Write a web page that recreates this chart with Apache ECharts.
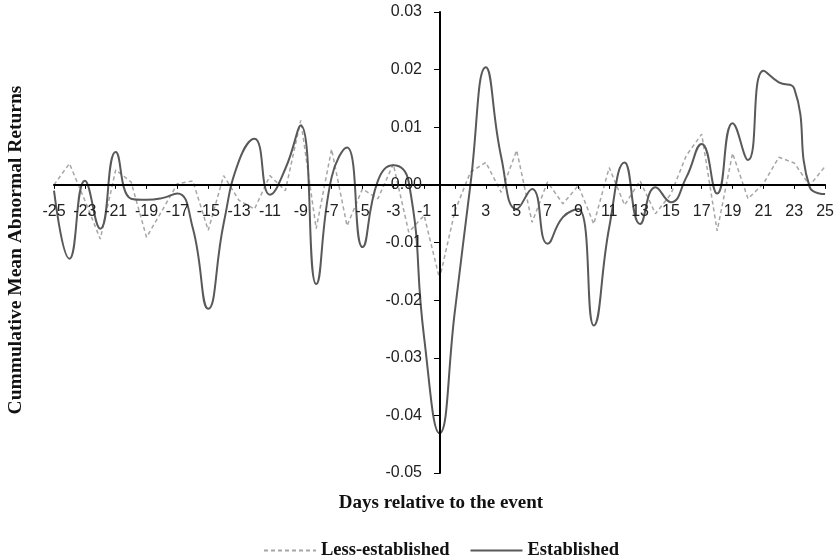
<!DOCTYPE html>
<html>
<head>
<meta charset="utf-8">
<script src="https://cdn.jsdelivr.net/npm/echarts@6/dist/echarts.min.js"></script>
<style>
html,body{margin:0;padding:0;background:#fff;}
#chart{width:837px;height:560px;}
</style>
</head>
<body>
<div id="chart"></div>
<script>
const days = [-25,-24,-23,-22,-21,-20,-19,-18,-17,-16,-15,-14,-13,-12,-11,-10,-9,-8,-7,-6,-5,-4,-3,-2,-1,0,1,2,3,4,5,6,7,8,9,10,11,12,13,14,15,16,17,18,19,20,21,22,23,24,25];

const lessEstablished = [
  0.0000, 0.0037, -0.0027, -0.0094, 0.0026, 0.0005, -0.0091, -0.0045, 0.0002, 0.0007,
  -0.0079, 0.0016, -0.0027, -0.0042, 0.0016, -0.0010, 0.0112, -0.0076, 0.0062, -0.0071,
  -0.0007, -0.0024, 0.0036, -0.0082, -0.0053, -0.0163, -0.0045, 0.0022, 0.0039, -0.0013,
  0.0060, -0.0065, 0.0005, -0.0033, -0.0001, -0.0068, 0.0030, -0.0035, 0.0007, -0.0050,
  -0.0016, 0.0051, 0.0088, -0.0080, 0.0055, -0.0024, 0.0002, 0.0048, 0.0038, -0.0001,
  0.0032
];

const established = [
  -0.0010, -0.0128, 0.0007, -0.0076, 0.0057, -0.0024, -0.0026, -0.0023, -0.0015, -0.0075,
  -0.0215, -0.0067, 0.0042, 0.0080, -0.0017, 0.0028, 0.0103, -0.0172, 0.0013, 0.0065,
  -0.0108, 0.0007, 0.0034, 0.0005, -0.0265, -0.0431, -0.0218, 0.0000, 0.0204, 0.0048,
  -0.0042, -0.0007, -0.0102, -0.0056, -0.0042, -0.0244, -0.0074, 0.0039, -0.0068, -0.0004,
  -0.0030, 0.0013, 0.0071, -0.0015, 0.0107, 0.0043, 0.0198, 0.0178, 0.0167, -0.0004,
  -0.0016
];

const yMin = -0.05, yMax = 0.03, yStep = 0.01;
const seriesNames = ['Less-established', 'Established'];
const xTitle = 'Days relative to the event';
const yTitle = 'Cummulative Mean Abnormal Returns';

const chart = echarts.init(document.getElementById('chart'), null, {renderer: 'canvas'});
const gridLeft = 54, gridRight = 11, gridTop = 12, gridBottom = 87;
const plotW = 837 - gridLeft - gridRight;
const plotH = 560 - gridTop - gridBottom;
const zeroIdx = days.indexOf(0);
const yAxisX = plotW * zeroIdx / (days.length - 1);
const xAxisUp = plotH * (0 - yMin) / (yMax - yMin);

chart.setOption({
  animation: false,
  backgroundColor: '#fff',
  grid: {left: gridLeft, right: gridRight, top: gridTop, bottom: gridBottom, containLabel: false},
  xAxis: {
    type: 'category',
    data: days.map(String),
    boundaryGap: false,
    position: 'bottom',
    offset: -xAxisUp,
    axisLine: {onZero: false, lineStyle: {color: '#000', width: 2}},
    axisTick: {show: true, interval: 1, length: 4, lineStyle: {color: '#000', width: 1}},
    axisLabel: {interval: 1, margin: 19, fontFamily: 'Liberation Sans', fontSize: 16, color: '#222'},
    splitLine: {show: false},
    z: 5
  },
  yAxis: {
    type: 'value',
    min: yMin, max: yMax, interval: yStep,
    position: 'left',
    offset: -yAxisX,
    axisLine: {show: true, onZero: false, lineStyle: {color: '#000', width: 2}},
    axisTick: {show: true, length: 6, lineStyle: {color: '#000', width: 1}},
    axisLabel: {
      margin: 18, fontFamily: 'Liberation Sans', fontSize: 16, color: '#222',
      formatter: v => (Math.round(v * 100) / 100).toFixed(2).replace('-0.00', '0.00')
    },
    splitLine: {show: false},
    z: 5
  },
  legend: {
    top: 536,
    left: 258,
    itemWidth: 52,
    itemHeight: 10,
    itemGap: 20,
    itemStyle: {opacity: 0},
    textStyle: {fontFamily: 'Liberation Serif', fontWeight: 'bold', fontSize: 18.5, color: '#111'},
    data: seriesNames
  },
  graphic: [
    {
      type: 'text', x: 441, y: 503,
      style: {text: xTitle, font: 'bold 19px "Liberation Serif"', fill: '#111', textAlign: 'center', textVerticalAlign: 'middle'}
    },
    {
      type: 'text', x: 16, y: 250, rotation: Math.PI / 2,
      style: {text: yTitle, font: 'bold 19.5px "Liberation Serif"', fill: '#111', textAlign: 'center', textVerticalAlign: 'middle'}
    }
  ],
  series: [
    {
      name: seriesNames[0], type: 'line', data: lessEstablished,
      symbol: 'none', smooth: false,
      lineStyle: {color: '#a6a6a6', width: 1.5, type: [4, 3]},
      itemStyle: {color: '#a6a6a6'},
      z: 2
    },
    {
      name: seriesNames[1], type: 'line', data: established,
      symbol: 'none', smooth: 0.5,
      lineStyle: {color: '#595959', width: 2},
      itemStyle: {color: '#595959'},
      z: 3
    }
  ]
});
</script>
</body>
</html>
